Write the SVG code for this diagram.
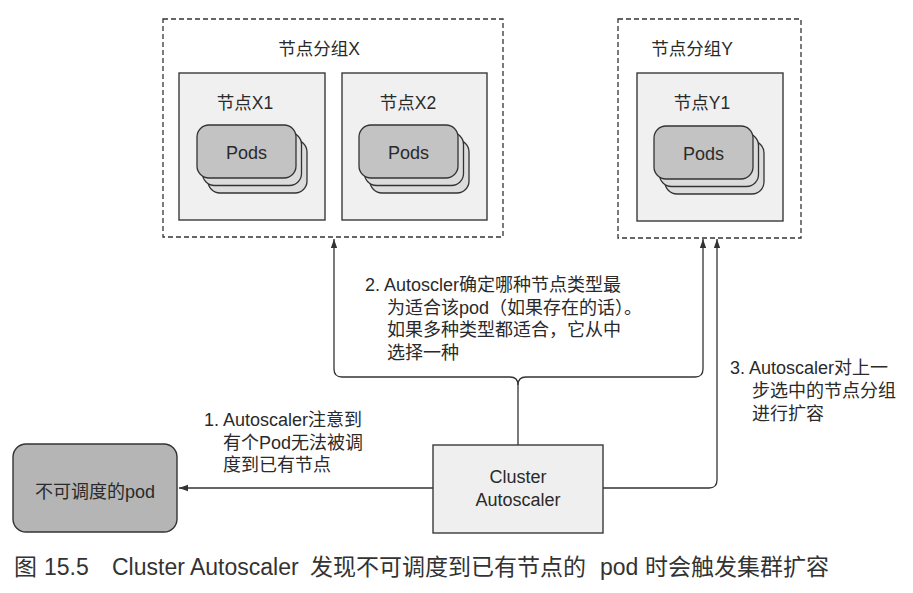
<svg xmlns="http://www.w3.org/2000/svg" width="913" height="593" viewBox="0 0 913 593">
<defs>
<style>
text { font-family: 'Liberation Sans', 'Noto Sans CJK SC', sans-serif; fill: #2a2a2a; }
.t17 { font-size: 17.5px; }
.lb { font-size: 18px; }
.t18 { font-size: 18px; }
.mid { text-anchor: middle; }
.group { fill: #ffffff; stroke: #333; stroke-width: 1.3; stroke-dasharray: 5 3; }
.node { fill: #f0f0f0; stroke: #3a3a3a; stroke-width: 1.4; }
.podback { fill: #dcdcdc; stroke: #333; stroke-width: 1.3; }
.podfront { fill: #c3c3c3; stroke: #333; stroke-width: 1.3; }
.conn { fill: none; stroke: #333; stroke-width: 1.3; }
.cap { font-size: 23px; fill: #333; }
</style>
<marker id="arr" viewBox="0 0 10 10" refX="10" refY="5" markerWidth="9" markerHeight="9" markerUnits="userSpaceOnUse" orient="auto">
<path d="M0,1.5 L10,5 L0,8.5 Z" fill="#333"/>
</marker>
<g id="podstack">
<rect x="11" y="15" width="99" height="53" rx="12" class="podback"/>
<rect x="5.5" y="7.5" width="99" height="53" rx="12" class="podback"/>
<rect x="0" y="0" width="99" height="53" rx="12" class="podfront"/>
</g>
</defs>
<rect width="913" height="593" fill="#ffffff"/>

<g id="group-x">
<rect x="163" y="19" width="340" height="218" class="group"/>
<text x="319" y="55" class="t17 mid">节点分组X</text>
</g>
<g id="node-x1">
<rect x="179" y="73" width="146" height="147" class="node"/>
<text x="245" y="109" class="t17 mid">节点X1</text>
<use href="#podstack" x="197" y="125"/>
<text x="246.5" y="159" class="t18 mid">Pods</text>
</g>
<g id="node-x2">
<rect x="342" y="73" width="145" height="147" class="node"/>
<text x="408" y="109" class="t17 mid">节点X2</text>
<use href="#podstack" x="359" y="125"/>
<text x="408.5" y="159" class="t18 mid">Pods</text>
</g>

<g id="group-y">
<rect x="618" y="19" width="183" height="219" class="group"/>
<text x="692" y="55" class="t17 mid">节点分组Y</text>
</g>
<g id="node-y1">
<rect x="637" y="73" width="146" height="148" class="node"/>
<text x="702" y="109" class="t17 mid">节点Y1</text>
<use href="#podstack" x="654" y="126"/>
<text x="703.5" y="160" class="t18 mid">Pods</text>
</g>

<g id="unschedulable-pod">
<rect x="13" y="444" width="164" height="88" rx="13" fill="#b5b5b5" stroke="#333" stroke-width="1.4"/>
<text x="95" y="498" class="t18 mid">不可调度的pod</text>
</g>

<g id="cluster-autoscaler">
<rect x="433" y="445" width="170" height="88" fill="#efefef" stroke="#3a3a3a" stroke-width="1.4"/>
<text x="518" y="483" class="t18 mid">Cluster</text>
<text x="518" y="506" class="t18 mid">Autoscaler</text>
</g>

<g id="connectors">
<path d="M433,488 H179" class="conn" marker-end="url(#arr)"/>
<path d="M518,445 V385 Q518,377 510,377 H342 Q334,377 334,369 V239" class="conn" marker-end="url(#arr)"/>
<path d="M518,385 Q518,377 526,377 H695 Q703,377 703,369 V239" class="conn" marker-end="url(#arr)"/>
<path d="M603,488 H709 Q717,488 717,480 V239" class="conn" marker-end="url(#arr)"/>
</g>

<g id="labels">
<text x="204" y="426" class="lb">1. Autoscaler注意到</text>
<text x="223" y="449" class="lb">有个Pod无法被调</text>
<text x="223" y="471" class="lb">度到已有节点</text>

<text x="365" y="291" class="lb">2. Autoscler确定哪种节点类型最</text>
<text x="387" y="314" class="lb">为适合该pod（如果存在的话）。</text>
<text x="387" y="336" class="lb">如果多种类型都适合，它从中</text>
<text x="387" y="359" class="lb">选择一种</text>

<text x="730" y="374" class="lb">3. Autoscaler对上一</text>
<text x="752" y="397" class="lb">步选中的节点分组</text>
<text x="752" y="420" class="lb">进行扩容</text>
</g>

<g id="caption">
<text x="14" y="575" class="cap">图</text>
<text x="44" y="575" class="cap">15.5</text>
<text x="112" y="575" class="cap">Cluster Autoscaler</text>
<text x="310" y="575" class="cap">发现不可调度到已有节点的</text>
<text x="600" y="575" class="cap">pod</text>
<text x="645" y="575" class="cap">时会触发集群扩容</text>
</g>
</svg>
